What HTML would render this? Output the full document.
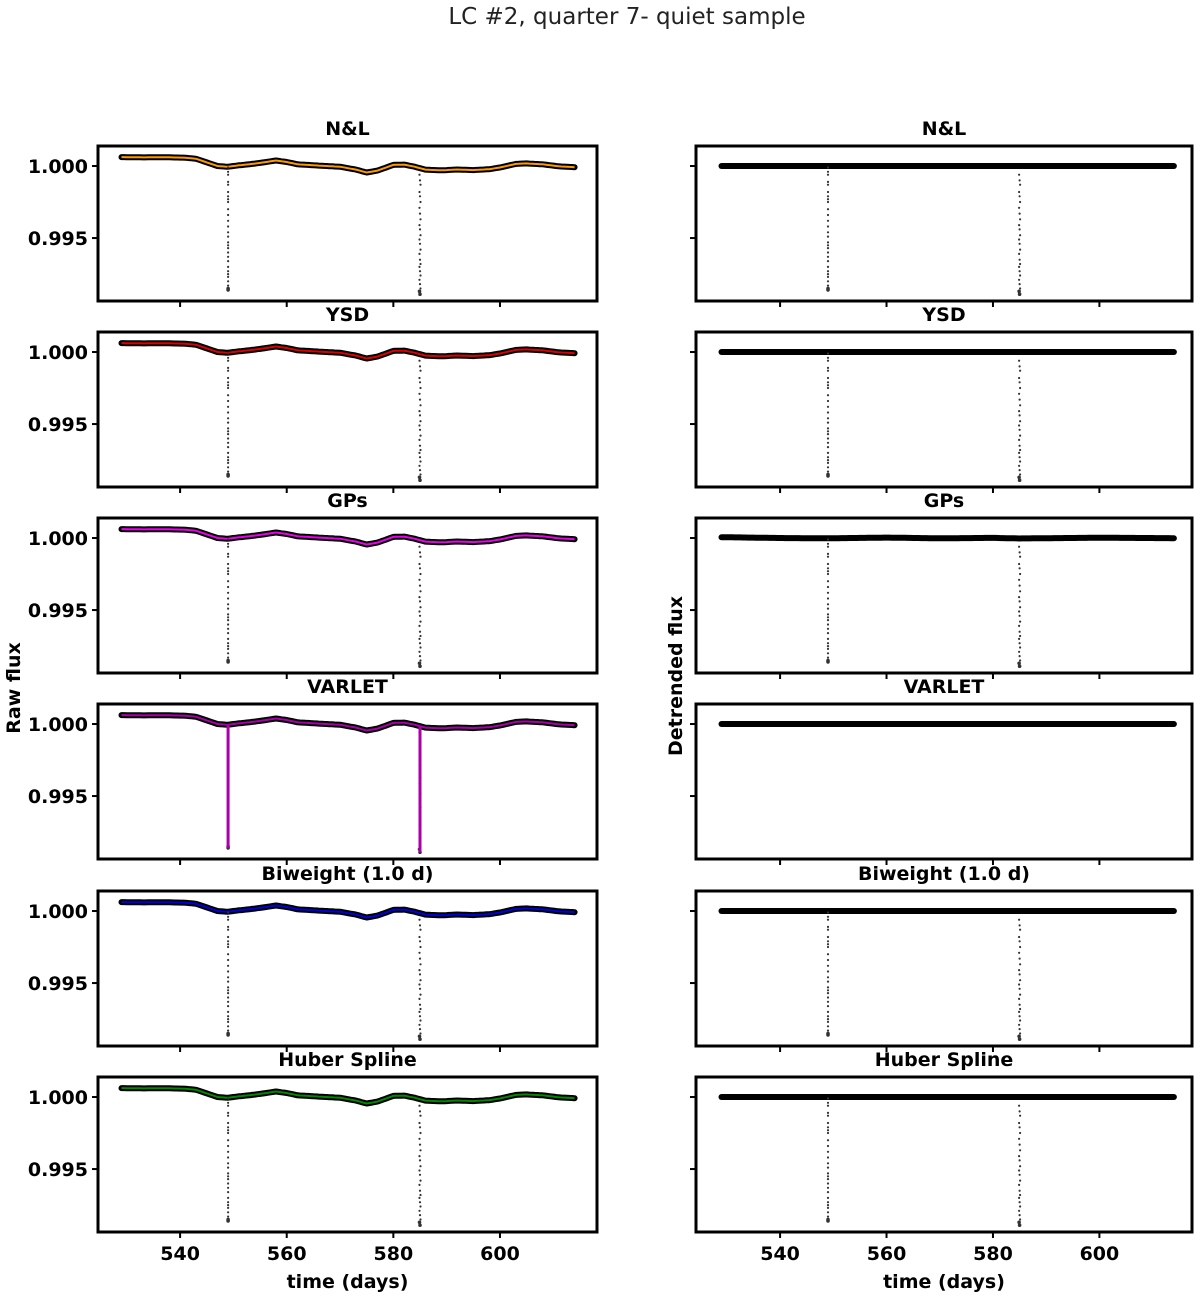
<!DOCTYPE html>
<html><head><meta charset="utf-8"><style>
body{margin:0;background:#fff;}
svg{display:block;font-family:"DejaVu Sans","Liberation Sans",sans-serif;}
</style></head><body>
<svg id="fig" width="1200" height="1299" viewBox="0 0 1200 1299">
<text x="627" y="24" text-anchor="middle" font-size="23" fill="#222">LC #2, quarter 7- quiet sample</text>
<text transform="translate(20,688) rotate(-90)" text-anchor="middle" font-size="19" font-weight="bold">Raw flux</text>
<text transform="translate(682,676) rotate(-90)" text-anchor="middle" font-size="19" font-weight="bold">Detrended flux</text>
</svg>
<script>
// data
const methods = ["N&L","YSD","GPs","VARLET","Biweight (1.0 d)","Huber Spline"];
const colors = ["#ff9900","#dd0000","#ee00ee","#aa00aa","#0000dd","#008800"];
const trendTimes = [529,533,537,541,543,545,547,549,551,553,555,558,560,562,566,570,573,575,577,580,582,584,586,589,592,595,598,600,603,605,608,611,614];
const trendFlux  = [1.00062,1.00060,1.00061,1.00058,1.00050,1.00025,1.00000,0.99995,1.00005,1.00012,1.00022,1.00038,1.00028,1.00012,1.00003,0.99995,0.99975,0.99955,0.99968,1.00008,1.00010,0.99995,0.99975,0.99970,0.99976,0.99972,0.99978,0.99990,1.00015,1.00018,1.00012,0.99998,0.99992];
const transitTimes = [549.0, 585.0];
const transitDepths1 = [0.99990,0.99960,0.99940,0.99890,0.99870,0.99820,0.99790,0.99770,0.99750,0.99700,0.99660,0.99620,0.99580,0.99540,0.99510,0.99470,0.99450,0.99430,0.99400,0.99370,0.99340,0.99300,0.99270,0.99250,0.99230,0.99200,0.99170,0.99150,0.99140];
const transitDepths2 = [0.99940,0.99900,0.99870,0.99820,0.99790,0.99750,0.99710,0.99670,0.99630,0.99590,0.99560,0.99520,0.99490,0.99460,0.99420,0.99390,0.99350,0.99320,0.99300,0.99270,0.99240,0.99210,0.99180,0.99150,0.99130,0.99110];
const detrendTimes = [529,540,549,560,570,580,585,600,614];
const gpsDetrend = [1.00006,1.00000,0.99998,1.00003,0.99998,1.00001,0.99997,1.00002,0.99999];
const xTicks = [540,560,580,600];
const yTicks = [1.000,0.995];
const yTickLabels = ["1.000","0.995"];

const NS="http://www.w3.org/2000/svg";
const svg=document.getElementById('fig');
function el(tag,attrs,parent){const e=document.createElementNS(NS,tag);for(const k in attrs)e.setAttribute(k,attrs[k]);(parent||svg).appendChild(e);return e;}
const rowTops=[146,332,518,704,891,1077], H=155;
const cols=[{x0:98,x1:597,t0:524.6,t1:618.2},{x0:696,x1:1192,t0:524.2,t1:617.4}];
const yTop=1.00139, yBot=0.99063;
function sy(v,top){return top+(yTop-v)/(yTop-yBot)*H;}
function sx(t,c){return c.x0+(t-c.t0)/(c.t1-c.t0)*(c.x1-c.x0);}
function interp(t,ts,fs){for(let i=0;i<ts.length-1;i++){if(t>=ts[i]&&t<=ts[i+1]){const f=(t-ts[i])/(ts[i+1]-ts[i]);return fs[i]+f*(fs[i+1]-fs[i]);}}return fs[fs.length-1];}

methods.forEach((m,r)=>{
 const top=rowTops[r];
 [0,1].forEach(ci=>{
  const c=cols[ci];
  const g=el('g',{});
  
  
  const t=el('text',{x:(c.x0+c.x1)/2,y:top-11,'text-anchor':'middle','font-size':'19','font-weight':'bold'},g);
  t.textContent=m;
  
  
  let pts=[];
  for(let tt=529;tt<=614;tt+=0.5){
    let v;
    if(ci===0) v=interp(tt,trendTimes,trendFlux);
    else v=(m==="GPs")?interp(tt,detrendTimes,gpsDetrend):1.0;
    pts.push(sx(tt,c).toFixed(1)+','+sy(v,top).toFixed(1));
  }
  const band=el('polyline',{points:pts.join(' '),fill:'none',stroke:'#000','stroke-width':'6','stroke-linejoin':'round','stroke-linecap':'round'},g);
  
  
  if(ci===0){
    const ln=el('polyline',{points:pts.join(' '),fill:'none',stroke:colors[r],'stroke-width':'2'},g);
    
    
  }
  if(!(ci===1 && m==="VARLET")){
    [transitDepths1,transitDepths2].forEach((arr,k)=>{
      const tx=transitTimes[k];
      arr.forEach((v,i)=>{
        const d=el('circle',{cx:(sx(tx,c)+(k===1?(i%3-1)*0.5:0)).toFixed(1),cy:sy(v,top).toFixed(1),r:(i>arr.length-3?1.8:1.1),fill:'#333'},g);
        
        
      });
      if(ci===0 && m==="VARLET"){
        const vl=el('line',{x1:sx(tx,c),x2:sx(tx,c),y1:sy(interp(tx,trendTimes,trendFlux),top),y2:sy(arr[arr.length-1],top),stroke:colors[r],'stroke-width':'3'},g);
        
        
      }
    });
  }
  const fr=el('rect',{x:c.x0,y:top,width:c.x1-c.x0,height:H,fill:'none',stroke:'#000','stroke-width':'3'},g);
  
  
  yTicks.forEach((v,i)=>{
    el('line',{x1:c.x0-6,x2:c.x0,y1:sy(v,top),y2:sy(v,top),stroke:'#000','stroke-width':'2'},g);
    if(ci===0){
      const yl=el('text',{x:c.x0-10,y:sy(v,top)+7,'text-anchor':'end','font-size':'19','font-weight':'bold'},g);
      yl.textContent=yTickLabels[i];
      
      
    }
  });
  xTicks.forEach(v=>{
    el('line',{x1:sx(v,c),x2:sx(v,c),y1:top+H,y2:top+H+6,stroke:'#000','stroke-width':'2'},g);
    if(r===5){
      const xl=el('text',{x:sx(v,c),y:top+H+28,'text-anchor':'middle','font-size':'19','font-weight':'bold'},g);
      xl.textContent=v;
      
      
    }
  });
  if(r===5){
    const xt=el('text',{x:(c.x0+c.x1)/2,y:1288,'text-anchor':'middle','font-size':'19','font-weight':'bold'},g);
    xt.textContent='time (days)';
    
    
  }
 });
});
</script>
</body></html>
